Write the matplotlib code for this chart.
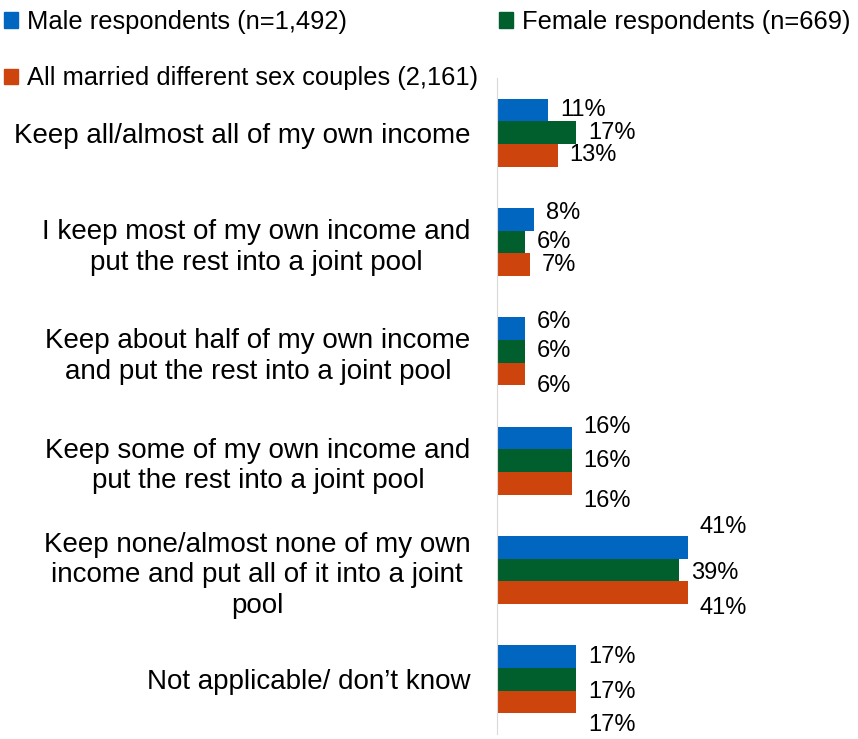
import numpy as np
import matplotlib.pyplot as plt
from matplotlib.patches import Patch

plt.rcParams['font.family'] = ['Liberation Sans', 'DejaVu Sans']

# Datos
categorias = [
    "Keep all/almost all of my own income",
    "I keep most of my own income and\nput the rest into a joint pool",
    "Keep about half of my own income\nand put the rest into a joint pool",
    "Keep some of my own income and\nput the rest into a joint pool",
    "Keep none/almost none of my own\nincome and put all of it into a joint\npool",
    "Not applicable/ don\u2019t know",
]
series = [
    "Male respondents (n=1,492)",
    "Female respondents (n=669)",
    "All married different sex couples (2,161)",
]
male = [11, 8, 6, 16, 41, 17]
female = [17, 6, 6, 16, 39, 17]
all_couples = [13, 7, 6, 16, 41, 17]

colores = ["#0066C0", "#005F2C", "#CD440C"]

# desplazamiento vertical de las etiquetas (pixeles), como en el original
desp = [
    [0, 6, 7, 11, 20, 0],
    [0, 0, 0, 0, -3, -13],
    [0, 0, -12, -18, -15, -23],
]

fig = plt.figure(figsize=(8.58, 7.39), dpi=100)
ax = fig.add_axes([497 / 858, 5 / 739, 353 / 858, 656 / 739])

y = np.arange(len(categorias))
h = 0.208
valores = [male, female, all_couples]
for k, vals in enumerate(valores):
    pos = y + (k - 1) * h
    ax.barh(pos, vals, height=h, color=colores[k], label=series[k])
    for j, v in enumerate(vals):
        ax.annotate(f"{v}%", (v, pos[j]), xytext=(12, desp[k][j]),
                    textcoords="offset pixels", va="center", ha="left",
                    fontsize=17)

ax.set_xlim(0, 75.8)
ax.set_ylim(5.5, -0.5)
ax.set_yticks(y)
ax.set_yticklabels(categorias, fontsize=20, linespacing=1.23,
                   multialignment="center")
ax.tick_params(axis="y", length=0, pad=19)
ax.set_xticks([])
for s in ["top", "right", "bottom"]:
    ax.spines[s].set_visible(False)
ax.spines["left"].set_color("#D9D9D9")

handles = [Patch(color=c) for c in colores]
orden = [0, 2, 1]
fig.legend([handles[i] for i in orden], [series[i] for i in orden],
           loc="upper left", bbox_to_anchor=(-0.007, 1.0), ncol=2, frameon=False,
           fontsize=18.4, handlelength=0.55, handleheight=0.55,
           handletextpad=0.35, columnspacing=0.8, labelspacing=1.26,
           borderaxespad=0.0, borderpad=0.4)

fig.savefig("out.png", dpi=100)
